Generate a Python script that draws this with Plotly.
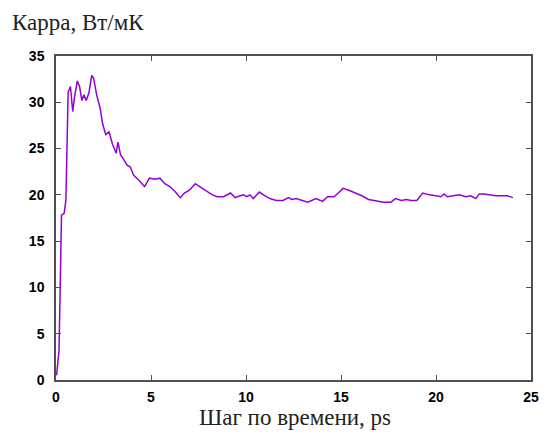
import plotly.graph_objects as go

time_ps = [0.03, 0.16, 0.29, 0.43, 0.52, 0.64, 0.76, 0.88, 0.98, 1.12, 1.24, 1.36, 1.47, 1.59, 1.73,
           1.88, 1.98, 2.14, 2.33, 2.45, 2.62, 2.79, 2.97, 3.17, 3.26, 3.40, 3.57, 3.74, 3.91, 4.09,
           4.35, 4.66, 4.92, 5.21, 5.47, 5.73, 5.99, 6.25, 6.54, 6.76, 7.02, 7.33, 7.62, 7.97, 8.23,
           8.49, 8.83, 9.18, 9.43, 9.69, 9.87, 10.04, 10.21, 10.39, 10.70, 11.00, 11.26, 11.60, 11.95,
           12.24, 12.41, 12.64, 12.90, 13.25, 13.68, 14.03, 14.29, 14.63, 14.86, 15.10, 15.41, 15.76,
           16.10, 16.45, 16.80, 17.23, 17.62, 17.87, 18.18, 18.43, 18.70, 18.99, 19.30, 19.65, 19.99,
           20.25, 20.43, 20.60, 20.90, 21.22, 21.57, 21.83, 22.10, 22.27, 22.53, 22.79, 23.14, 23.48,
           23.75, 24.05]
kappa = [0.5, 3.2, 17.8, 18.0, 19.4, 31.1, 31.7, 29.0, 30.6, 32.3, 31.7, 30.2, 30.8, 30.2, 31.0,
         32.9, 32.6, 30.8, 29.3, 27.7, 26.5, 26.8, 25.5, 24.5, 25.7, 24.3, 23.8, 23.2, 23.0, 22.1,
         21.6, 20.9, 21.8, 21.7, 21.8, 21.2, 20.9, 20.4, 19.7, 20.2, 20.5, 21.2, 20.8, 20.3, 20.0,
         19.8, 19.8, 20.2, 19.7, 19.9, 20.0, 19.8, 20.0, 19.6, 20.3, 19.9, 19.6, 19.4, 19.4,
         19.7, 19.5, 19.6, 19.4, 19.2, 19.6, 19.3, 19.8, 19.8, 20.2, 20.7, 20.5, 20.2,
         19.9, 19.5, 19.4, 19.2, 19.2, 19.6, 19.4, 19.5, 19.4, 19.4, 20.2, 20.0, 19.9,
         19.8, 20.1, 19.8, 19.9, 20.0, 19.8, 19.9, 19.6, 20.1, 20.1, 20.0, 19.9, 19.9,
         19.9, 19.7]

x_ticks = [0, 5, 10, 15, 20, 25]
y_ticks = [0, 5, 10, 15, 20, 25, 30, 35]

fig = go.Figure()
fig.add_trace(go.Scatter(x=time_ps, y=kappa, mode="lines",
                         line=dict(color="#9400D3", width=1.5), showlegend=False))

axis_common = dict(showline=True, linecolor="#505050", linewidth=1.5, mirror="ticks",
                   ticks="inside", ticklen=5, tickwidth=1, tickcolor="#505050",
                   showgrid=False, zeroline=False,
                   tickfont=dict(family="Liberation Sans", size=14, color="black", weight="bold"))

fig.update_xaxes(range=[0, 25], tickvals=x_ticks, ticklabelstandoff=3, **axis_common)
fig.update_yaxes(range=[0, 35], tickvals=y_ticks, ticklabelstandoff=7, **axis_common)

fig.update_layout(
    width=548, height=432,
    margin=dict(l=56, r=9, t=56, b=52),
    paper_bgcolor="white", plot_bgcolor="white",
    title=dict(text="Карра, Вт/мК", x=12/548, xanchor="left", xref="container",
               y=1 - 22/432, yanchor="middle", yref="container",
               font=dict(family="Liberation Serif", size=23, color="#222")),
)
fig.add_annotation(text="Шаг по времени, ps", xref="paper", yref="paper",
                   x=(299 - 56) / 483, y=(380 - 432) / 324, xanchor="center", yanchor="bottom",
                   showarrow=False, font=dict(family="Liberation Serif", size=23, color="#222"))

fig.write_html("out.html", config={"displayModeBar": False},
               post_script="document.body.style.margin='0';")
